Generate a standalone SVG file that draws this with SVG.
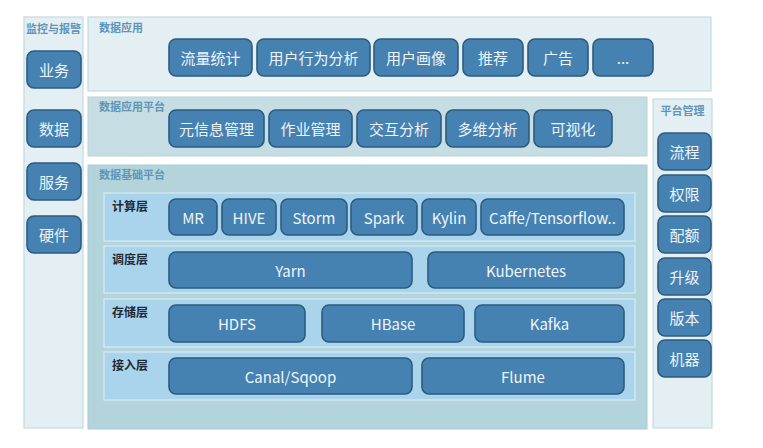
<svg xmlns="http://www.w3.org/2000/svg" width="763" height="448" viewBox="0 0 763 448">
<style>
.col{fill:#e3eff3;stroke:#c3dbe2;stroke-width:1.2}
.p1{fill:#e3eff3;stroke:#c3dbe2;stroke-width:1.2}
.p2{fill:#c5dde3;stroke:#b7d3da;stroke-width:1}
.p3{fill:#b4d4db;stroke:#a9cbd3;stroke-width:1}
.row{fill:#aad4ec;stroke:#d6ebf6;stroke-width:1.2}
.btn{fill:#4682b1;stroke:#2c5b81;stroke-width:1.6}
.bt{font-family:"Noto Sans CJK SC","Open Sans",sans-serif;font-size:15px;fill:#eef4fa;text-anchor:middle;dominant-baseline:central}
.ttl{font-family:"Noto Sans CJK SC",sans-serif;font-size:11px;font-weight:bold;fill:#5f95b8}
.lay{font-family:"Noto Sans CJK SC",sans-serif;font-size:12px;font-weight:bold;fill:#1d2a36}
</style>
<rect width="763" height="448" fill="#ffffff"/>
<g id="monitor">
<rect class="col" x="24" y="17" width="59" height="411"/>
<text class="ttl" x="53.5" y="33" text-anchor="middle">监控与报警</text>
<g id="m-biz"><rect class="btn" x="27" y="51" width="54" height="37" rx="7"/><text class="bt" x="54" y="69.5">业务</text></g>
<g id="m-data"><rect class="btn" x="27" y="110" width="54" height="37" rx="7"/><text class="bt" x="54" y="128.5">数据</text></g>
<g id="m-svc"><rect class="btn" x="27" y="163" width="54" height="37" rx="7"/><text class="bt" x="54" y="181.5">服务</text></g>
<g id="m-hw"><rect class="btn" x="27" y="216" width="54" height="37" rx="7"/><text class="bt" x="54" y="234.5">硬件</text></g>
</g>
<g id="data-app">
<rect class="p1" x="88" y="17" width="623" height="74"/>
<text class="ttl" x="99" y="32">数据应用</text>
<g id="a1"><rect class="btn" x="169" y="39" width="83" height="37" rx="7"/><text class="bt" x="210.5" y="57.5">流量统计</text></g>
<g id="a2"><rect class="btn" x="257" y="39" width="113" height="37" rx="7"/><text class="bt" x="313.5" y="57.5">用户行为分析</text></g>
<g id="a3"><rect class="btn" x="374" y="39" width="84" height="37" rx="7"/><text class="bt" x="416" y="57.5">用户画像</text></g>
<g id="a4"><rect class="btn" x="463" y="39" width="60" height="37" rx="7"/><text class="bt" x="493" y="57.5">推荐</text></g>
<g id="a5"><rect class="btn" x="528" y="39" width="60" height="37" rx="7"/><text class="bt" x="558" y="57.5">广告</text></g>
<g id="a6"><rect class="btn" x="593" y="39" width="60" height="37" rx="7"/><text class="bt" x="623" y="57.5" font-size="13">...</text></g>
</g>
<g id="data-app-platform">
<rect class="p2" x="88" y="97" width="559" height="59"/>
<text class="ttl" x="99" y="111">数据应用平台</text>
<g id="b1"><rect class="btn" x="169" y="110" width="95" height="37" rx="7"/><text class="bt" x="216.5" y="128.5">元信息管理</text></g>
<g id="b2"><rect class="btn" x="269" y="110" width="83" height="37" rx="7"/><text class="bt" x="310.5" y="128.5">作业管理</text></g>
<g id="b3"><rect class="btn" x="357" y="110" width="84" height="37" rx="7"/><text class="bt" x="399" y="128.5">交互分析</text></g>
<g id="b4"><rect class="btn" x="446" y="110" width="83" height="37" rx="7"/><text class="bt" x="487.5" y="128.5">多维分析</text></g>
<g id="b5"><rect class="btn" x="534" y="110" width="78" height="37" rx="7"/><text class="bt" x="573" y="128.5">可视化</text></g>
</g>
<g id="platform-mgmt">
<rect class="col" x="653" y="99" width="59" height="329"/>
<text class="ttl" x="682.5" y="115" text-anchor="middle">平台管理</text>
<g id="r1"><rect class="btn" x="658" y="133" width="53" height="37" rx="7"/><text class="bt" x="684.5" y="151.5">流程</text></g>
<g id="r2"><rect class="btn" x="658" y="175" width="53" height="37" rx="7"/><text class="bt" x="684.5" y="193.5">权限</text></g>
<g id="r3"><rect class="btn" x="658" y="216" width="53" height="37" rx="7"/><text class="bt" x="684.5" y="234.5">配额</text></g>
<g id="r4"><rect class="btn" x="658" y="258" width="53" height="37" rx="7"/><text class="bt" x="684.5" y="276.5">升级</text></g>
<g id="r5"><rect class="btn" x="658" y="299" width="53" height="37" rx="7"/><text class="bt" x="684.5" y="317.5">版本</text></g>
<g id="r6"><rect class="btn" x="658" y="340" width="53" height="37" rx="7"/><text class="bt" x="684.5" y="358.5">机器</text></g>
</g>
<g id="data-base-platform">
<rect class="p3" x="88" y="165" width="559" height="264"/>
<text class="ttl" x="99" y="179">数据基础平台</text>
<g id="compute">
<rect class="row" x="104" y="193" width="531" height="48"/>
<text class="lay" x="112" y="211">计算层</text>
<g id="c1"><rect class="btn" x="169" y="199" width="48" height="36" rx="7"/><text class="bt" x="193" y="217">MR</text></g>
<g id="c2"><rect class="btn" x="222" y="199" width="54" height="36" rx="7"/><text class="bt" x="249" y="217">HIVE</text></g>
<g id="c3"><rect class="btn" x="281" y="199" width="66" height="36" rx="7"/><text class="bt" x="314" y="217">Storm</text></g>
<g id="c4"><rect class="btn" x="351" y="199" width="66" height="36" rx="7"/><text class="bt" x="384" y="217">Spark</text></g>
<g id="c5"><rect class="btn" x="422" y="199" width="54" height="36" rx="7"/><text class="bt" x="449" y="217">Kylin</text></g>
<g id="c6"><rect class="btn" x="481" y="199" width="143" height="36" rx="7"/><text class="bt" x="552.5" y="217">Caffe/Tensorflow..</text></g>
</g>
<g id="schedule">
<rect class="row" x="104" y="246" width="531" height="47"/>
<text class="lay" x="112" y="264">调度层</text>
<g id="s1"><rect class="btn" x="169" y="252" width="243" height="36" rx="7"/><text class="bt" x="290.5" y="270">Yarn</text></g>
<g id="s2"><rect class="btn" x="428" y="252" width="196" height="36" rx="7"/><text class="bt" x="526" y="270">Kubernetes</text></g>
</g>
<g id="storage">
<rect class="row" x="104" y="299" width="531" height="48"/>
<text class="lay" x="112" y="317">存储层</text>
<g id="t1"><rect class="btn" x="169" y="305" width="136" height="37" rx="7"/><text class="bt" x="237" y="323.5">HDFS</text></g>
<g id="t2"><rect class="btn" x="322" y="305" width="142" height="37" rx="7"/><text class="bt" x="393" y="323.5">HBase</text></g>
<g id="t3"><rect class="btn" x="475" y="305" width="149" height="37" rx="7"/><text class="bt" x="549.5" y="323.5">Kafka</text></g>
</g>
<g id="ingest">
<rect class="row" x="104" y="352" width="531" height="48"/>
<text class="lay" x="112" y="370">接入层</text>
<g id="i1"><rect class="btn" x="169" y="358" width="243" height="36" rx="7"/><text class="bt" x="290.5" y="376">Canal/Sqoop</text></g>
<g id="i2"><rect class="btn" x="422" y="358" width="202" height="36" rx="7"/><text class="bt" x="523" y="376">Flume</text></g>
</g>
</g>
<g id="connectors"></g>
</svg>
